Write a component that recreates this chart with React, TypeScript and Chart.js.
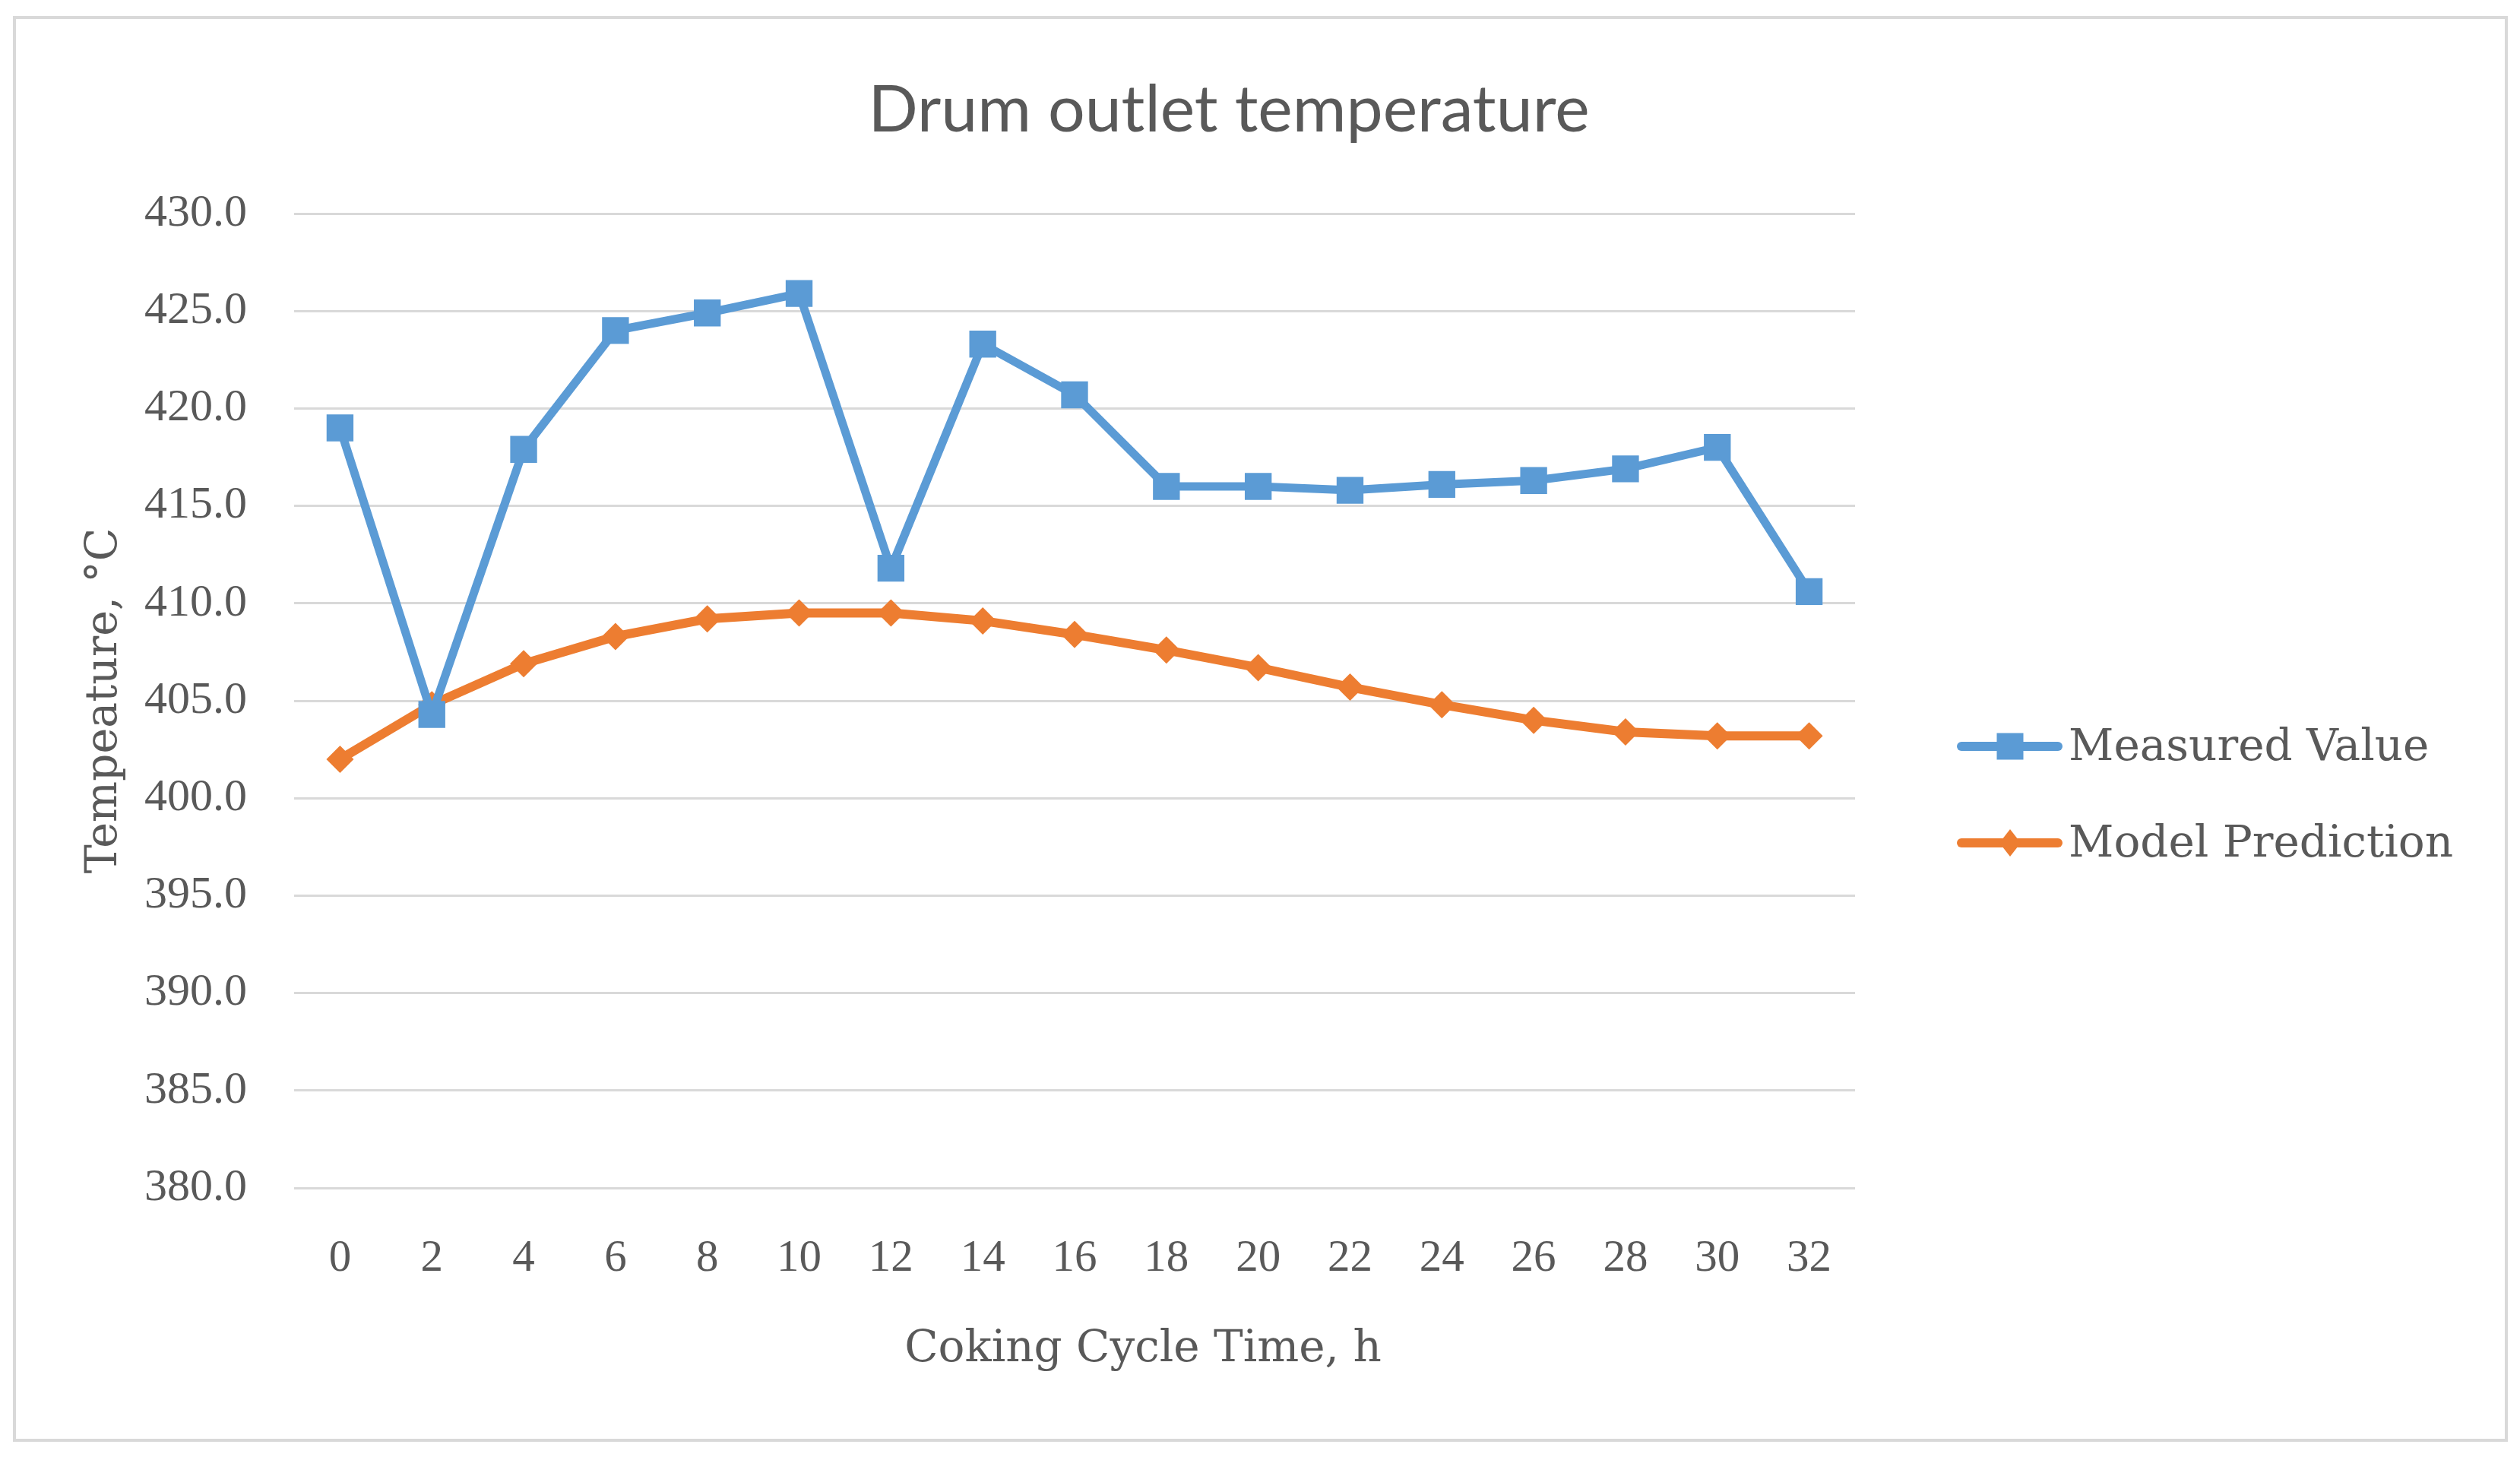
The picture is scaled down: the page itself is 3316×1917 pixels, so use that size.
import React, { useEffect, useRef } from 'react';
import { Chart, registerables } from 'chart.js';

Chart.register(...registerables);

const hours = ['0', '2', '4', '6', '8', '10', '12', '14', '16', '18', '20', '22', '24', '26', '28', '30', '32'];
const measuredValue = [419.0, 404.3, 417.9, 424.0, 424.9, 425.9, 411.8, 423.3, 420.7, 416.0, 416.0, 415.8, 416.1, 416.3, 416.9, 418.0, 410.6];
const modelPrediction = [402.0, 404.8, 406.9, 408.3, 409.2, 409.5, 409.5, 409.1, 408.4, 407.6, 406.7, 405.7, 404.8, 404.0, 403.4, 403.2, 403.2];
const seriesNames = ['Measured Value', 'Model Prediction'];
const seriesColors = ['#5B9BD5', '#ED7D31'];
const yMin = 380;
const yMax = 430;
const yStep = 5;
const chartTitle = 'Drum outlet temperature';
const xAxisTitle = 'Coking Cycle Time, h';
const yAxisTitle = 'Tempeature, °C';

const TEXT = '#595959';
const GRID = '#D9D9D9';
const SERIF = '"DejaVu Serif", serif';
const TICK_FONT = '"Liberation Serif", serif';

const decorPlugin = {
  id: 'decor',
  beforeDraw(chart: any) {
    const ctx = chart.ctx;
    ctx.save();
    ctx.fillStyle = '#FFFFFF';
    ctx.fillRect(0, 0, chart.width, chart.height);
    ctx.strokeStyle = GRID;
    ctx.lineWidth = 4;
    ctx.strokeRect(19, 23, 3279, 1872);
    ctx.restore();
  },
  afterDraw(chart: any) {
    const ctx = chart.ctx;
    ctx.save();
    // title
    ctx.fillStyle = TEXT;
    ctx.textAlign = 'center';
    ctx.textBaseline = 'alphabetic';
    ctx.font = '86px Lato, sans-serif';
    ctx.fillText(chartTitle, 1617, 173);
    // x axis title
    ctx.font = `58px ${SERIF}`;
    ctx.fillText(xAxisTitle, 1504, 1791);
    // legend
    const lineYs = [982, 1109];
    chart.data.datasets.forEach((ds: any, i: number) => {
      const y = lineYs[i];
      ctx.strokeStyle = ds.borderColor;
      ctx.lineWidth = 12;
      ctx.lineCap = 'round';
      ctx.beginPath();
      ctx.moveTo(2581, y);
      ctx.lineTo(2708, y);
      ctx.stroke();
      ctx.fillStyle = ds.borderColor;
      const cx = 2645;
      if (ds.pointStyle === 'rect') {
        ctx.fillRect(cx - 17.5, y - 17.5, 35, 35);
      } else {
        ctx.beginPath();
        ctx.moveTo(cx, y - 18);
        ctx.lineTo(cx + 14, y);
        ctx.lineTo(cx, y + 18);
        ctx.lineTo(cx - 14, y);
        ctx.closePath();
        ctx.fill();
      }
      ctx.fillStyle = TEXT;
      ctx.textAlign = 'left';
      ctx.font = `58px ${SERIF}`;
      ctx.fillText(ds.label, 2722, y + 18);
    });
    ctx.restore();
  },
};

export default function App() {
  const ref = useRef<HTMLCanvasElement>(null);

  useEffect(() => {
    document.body.style.margin = '0';
    const canvas = ref.current!;
    const chart = new Chart(canvas, {
      type: 'line',
      data: {
        labels: hours,
        datasets: [
          {
            label: seriesNames[0],
            data: measuredValue,
            borderColor: seriesColors[0],
            backgroundColor: seriesColors[0],
            borderWidth: 11,
            pointStyle: 'rect',
            pointRadius: 25,
            pointBorderWidth: 0,
            pointBackgroundColor: seriesColors[0],
            tension: 0,
            fill: false,
          },
          {
            label: seriesNames[1],
            data: modelPrediction,
            borderColor: seriesColors[1],
            backgroundColor: seriesColors[1],
            borderWidth: 12,
            pointStyle: 'rectRot',
            pointRadius: 18,
            pointBorderWidth: 0,
            pointBackgroundColor: seriesColors[1],
            tension: 0,
            fill: false,
          },
        ],
      },
      options: {
        responsive: false,
        animation: false,
        devicePixelRatio: 1,
        layout: { padding: { left: 0, top: 281, right: 875, bottom: 0 } },
        plugins: {
          legend: { display: false },
          title: { display: false },
          tooltip: { enabled: false },
        },
        scales: {
          x: {
            type: 'category',
            offset: true,
            grid: { display: false },
            border: { display: false },
            ticks: {
              color: TEXT,
              font: { family: TICK_FONT, size: 59 },
              padding: 50,
              maxRotation: 0,
              autoSkip: false,
            },
            afterFit(scale: any) {
              scale.height = 354;
            },
          },
          y: {
            min: yMin,
            max: yMax,
            grid: { color: GRID, lineWidth: 3, drawTicks: false },
            border: { display: false },
            ticks: {
              stepSize: yStep,
              color: TEXT,
              font: { family: TICK_FONT, size: 60 },
              padding: 62,
              callback: (v: any) => Number(v).toFixed(1),
            },
            title: {
              display: true,
              text: yAxisTitle,
              color: TEXT,
              font: { family: SERIF, size: 57 },
              padding: { top: 104, bottom: 0 },
            },
            afterFit(scale: any) {
              scale.width = 387;
            },
          },
        },
      },
      plugins: [decorPlugin],
    });
    return () => chart.destroy();
  }, []);

  return <canvas ref={ref} width={3316} height={1917} style={{ display: 'block', width: 3316, height: 1917 }} />;
}
